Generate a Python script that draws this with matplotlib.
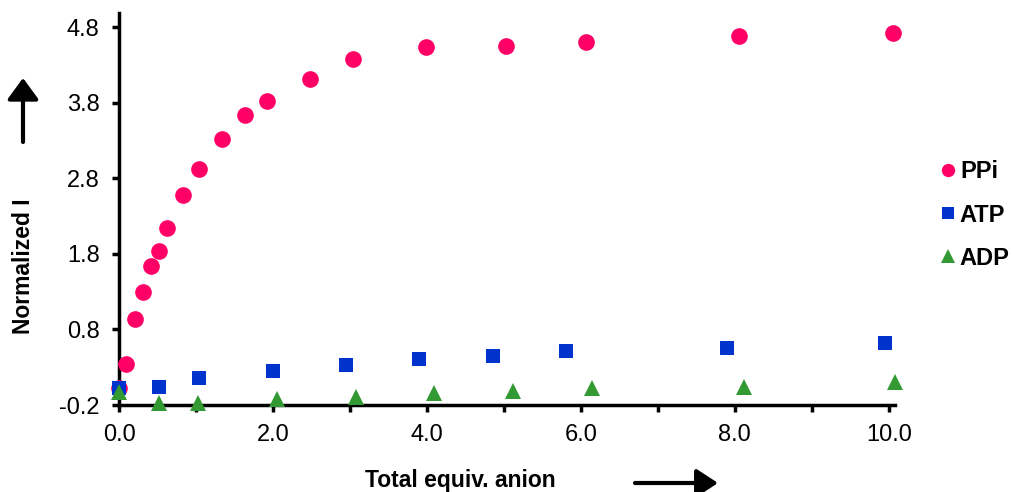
import matplotlib
matplotlib.use("Agg")
from matplotlib import pyplot as plt
from matplotlib.patches import FancyArrowPatch

# data
ppi_x = [0.0, 0.09, 0.21, 0.31, 0.42, 0.52, 0.62, 0.83, 1.04, 1.34, 1.64, 1.92,
         2.48, 3.04, 3.99, 5.03, 6.06, 8.06, 10.06]
ppi_y = [0.02, 0.34, 0.94, 1.29, 1.64, 1.84, 2.14, 2.58, 2.93, 3.32, 3.64, 3.82,
         4.11, 4.38, 4.54, 4.55, 4.60, 4.68, 4.72]

atp_x = [0.0, 0.52, 1.04, 2.0, 2.95, 3.9, 4.86, 5.8, 7.9, 9.95]
atp_y = [0.02, 0.04, 0.16, 0.25, 0.33, 0.41, 0.45, 0.51, 0.55, 0.62]

adp_x = [0.0, 0.52, 1.03, 2.05, 3.08, 4.09, 5.12, 6.14, 8.12, 10.08]
adp_y = [-0.03, -0.17, -0.17, -0.12, -0.09, -0.04, -0.01, 0.02, 0.04, 0.10]

x_ticks = [0.0, 2.0, 4.0, 6.0, 8.0, 10.0]
x_minor = [1.0, 3.0, 5.0, 7.0, 9.0]
y_ticks = [-0.2, 0.8, 1.8, 2.8, 3.8, 4.8]

plt.rcParams['font.family'] = ['Liberation Sans', 'DejaVu Sans']

W, H = 1013, 492
fig = plt.figure(figsize=(W / 100, H / 100), dpi=100)
ax = fig.add_axes([119 / W, 1 - 405 / H, (895 - 119) / W, (405 - 13) / H])

ax.plot(ppi_x, ppi_y, 'o', color='#FF0066', markersize=12, markeredgewidth=0,
        label='PPi', clip_on=False, zorder=3)
ax.plot(atp_x, atp_y, 's', color='#0033CC', markersize=10, markeredgewidth=0,
        label='ATP', clip_on=False, zorder=3)
ax.plot(adp_x, adp_y, '^', color='#339933', markersize=12, markeredgewidth=0,
        label='ADP', clip_on=False, zorder=4)

ax.set_xlim(0, 10.08)
ax.set_ylim(-0.2, 4.99)
ax.set_xticks(x_ticks)
ax.set_xticklabels([f"{v:.1f}" for v in x_ticks])
ax.set_xticks(x_minor, minor=True)
ax.set_yticks(y_ticks)
ax.set_yticklabels([f"{v:.1f}" for v in y_ticks])

for side in ['top', 'right']:
    ax.spines[side].set_visible(False)
for side in ['left', 'bottom']:
    ax.spines[side].set_linewidth(2.5)
ax.tick_params(axis='both', which='both', direction='out', length=5, width=2.5,
               labelsize=17)
ax.tick_params(axis='x', pad=9)
ax.tick_params(axis='y', pad=9)

fig.text(24 / W, 1 - 266 / H, 'Normalized I', rotation=90, ha='center',
         va='center', fontsize=16.5, fontweight='bold')
fig.text(460 / W, 1 - 487 / H, 'Total equiv. anion', ha='center',
         va='baseline', fontsize=16.5, fontweight='bold')

# arrows next to the axis labels
fig.add_artist(FancyArrowPatch(
    (23 / W, 1 - 142 / H), (23 / W, 1 - 78 / H), transform=fig.transFigure,
    arrowstyle='-|>,head_length=13,head_width=9.5', color='black', linewidth=3,
    mutation_scale=1, shrinkA=0, shrinkB=0))
fig.add_artist(FancyArrowPatch(
    (635 / W, 1 - 483 / H), (718 / W, 1 - 483 / H), transform=fig.transFigure,
    arrowstyle='-|>,head_length=13,head_width=8.5', color='black', linewidth=3,
    mutation_scale=1, shrinkA=0, shrinkB=0))

ax.legend(loc='center left', bbox_to_anchor=(941 / W, 1 - 215 / H),
          bbox_transform=fig.transFigure, frameon=False, markerscale=0.8,
          borderpad=0, borderaxespad=0, handlelength=0.6, handletextpad=0.2,
          labelspacing=0.85, prop={'size': 17, 'weight': 'bold'})

fig.savefig('out.png', dpi=100)
